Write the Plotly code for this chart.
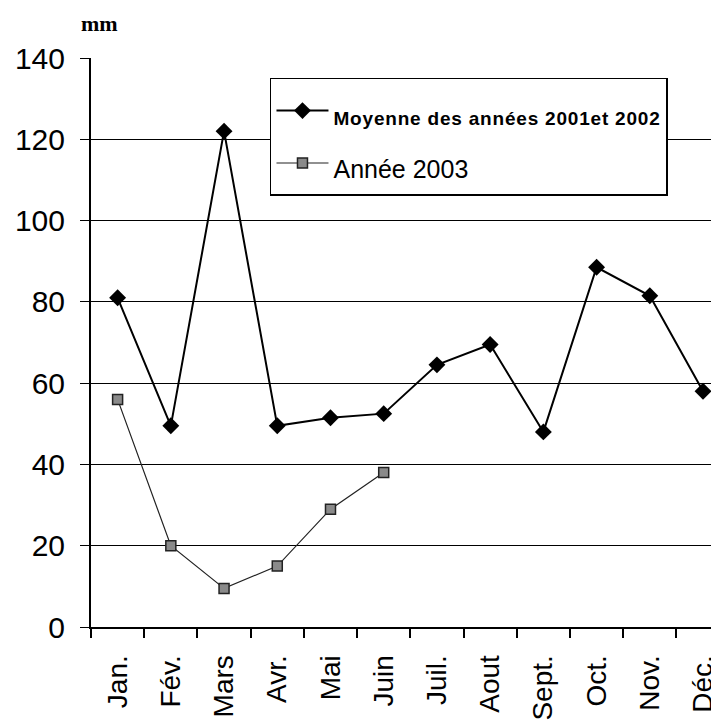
import plotly.graph_objects as go

months = ["Jan.", "Fév.", "Mars", "Avr.", "Mai", "Juin", "Juil.", "Aout", "Sept.", "Oct.", "Nov.", "Déc."]
moyenne_2001_2002 = [81, 49.5, 122, 49.5, 51.5, 52.5, 64.5, 69.5, 48, 88.5, 81.5, 58]
months_2003 = ["Jan.", "Fév.", "Mars", "Avr.", "Mai", "Juin"]
annee_2003 = [56, 20, 9.5, 15, 29, 38]
y_ticks = [0, 20, 40, 60, 80, 100, 120, 140]

FONT = "Arial, Liberation Sans, sans-serif"

fig = go.Figure()
fig.add_trace(go.Scatter(
    x=months, y=moyenne_2001_2002, mode="lines+markers",
    name="<b><span style='font-size:19px;letter-spacing:0.8px'>Moyenne des années 2001et 2002</span></b>",
    line=dict(color="black", width=2),
    marker=dict(symbol="diamond", size=13, color="black"),
))
fig.add_trace(go.Scatter(
    x=months_2003, y=annee_2003, mode="lines+markers",
    name="<span style='font-size:25px'>Année 2003</span>",
    line=dict(color="#222222", width=1.2),
    marker=dict(symbol="square", size=10, color="#8a8a8a", line=dict(color="#222222", width=1.5)),
))

fig.update_layout(
    width=711, height=719,
    margin=dict(l=83, r=0, t=50, b=100),
    paper_bgcolor="white", plot_bgcolor="white",
    font=dict(family=FONT, color="black"),
    showlegend=True,
    legend=dict(
        x=0.285, y=0.965, xanchor="left", yanchor="top",
        bordercolor="black", borderwidth=1.5, bgcolor="white",
        font=dict(size=38, family=FONT, color="black"),
        itemwidth=52,
    ),
    xaxis=dict(
        type="category", categoryorder="array", categoryarray=months,
        range=[-0.5, 11.3],
        showline=True, linecolor="black", linewidth=2,
        ticks="outside", ticklen=9, tickcolor="black", tickwidth=1.5,
        tickson="boundaries",
        tickangle=-90, tickfont=dict(size=28, family=FONT),
        ticklabelstandoff=15,
        showgrid=False, zeroline=False,
    ),
    yaxis=dict(
        range=[0, 140], tickvals=y_ticks,
        showline=True, linecolor="black", linewidth=2,
        ticks="outside", ticklen=9, tickcolor="black", tickwidth=1,
        tickfont=dict(size=30, family=FONT),
        ticklabelstandoff=9,
        showgrid=True, gridcolor="black", gridwidth=1,
        zeroline=False,
    ),
    annotations=[dict(
        text="<b>mm</b>", xref="paper", yref="paper",
        x=-0.019, y=1.0615, xanchor="left", yanchor="middle",
        showarrow=False, font=dict(family="Liberation Serif, Times New Roman, serif", size=22, color="black"),
    )],
)

fig.write_html("out.html")
